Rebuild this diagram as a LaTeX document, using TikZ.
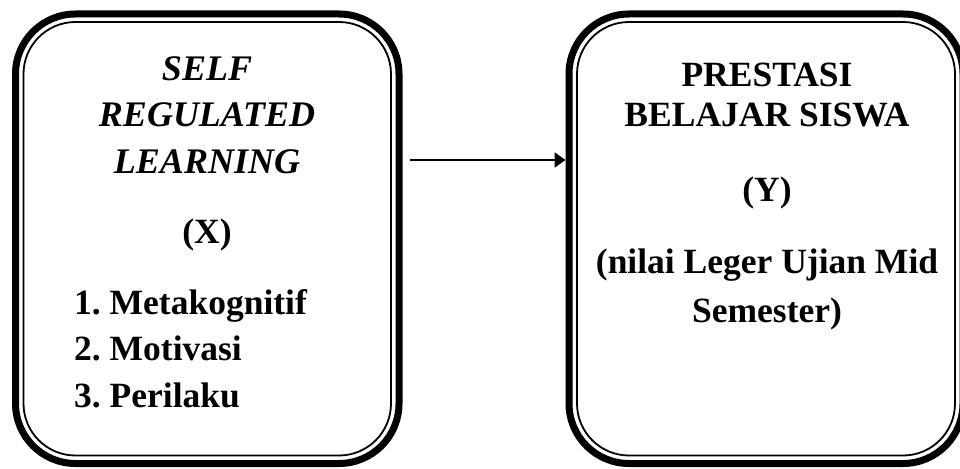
\documentclass[tikz,border=0pt]{standalone}
\usepackage{fontspec}
\setmainfont{Liberation Serif}
\usetikzlibrary{arrows.meta}
\frenchspacing
\tikzset{
  framebox/.style={draw, line width=7pt, rounded corners=60pt,
    minimum width=#1, minimum height=449.5pt, inner sep=0pt},
  innerframe/.style={draw, line width=1.8pt, rounded corners=52pt},
  boxtext/.style={inner sep=0pt, font=\bfseries\fontsize{35.5}{#1}\selectfont},
  boxtext/.default=46.5,
}
\begin{document}
\begin{tikzpicture}[x=1pt,y=-1pt]
    \useasboundingbox (0,0) rectangle (960,468);

    % Variable X
    \node[framebox=383.5pt] (xbox) at (207.25,238.75) {};
    \draw[innerframe] ([shift={(11.5,11.5)}]xbox.north west) rectangle ([shift={(-11.5,-11.5)}]xbox.south east);
    \node[boxtext, font=\bfseries\itshape\fontsize{36}{46.5}\selectfont, align=center, anchor=base] (xtitle) at (207,173) {SELF\\REGULATED\\LEARNING};
    \node[boxtext, anchor=base] (xsym) at (207,243) {(X)};
    \node[boxtext, align=left, anchor=base west] (xlist) at (74,407) {1. Metakognitif\\2. Motivasi\\3. Perilaku};

    % Variable Y
    \node[framebox=394pt] (ybox) at (766,238.75) {};
    \draw[innerframe] ([shift={(11.5,11.5)}]ybox.north west) rectangle ([shift={(-11.5,-11.5)}]ybox.south east);
    \node[boxtext=40, align=center, anchor=base] (ytitle) at (767,127) {PRESTASI\\BELAJAR SISWA};
    \node[boxtext, anchor=base] (ysym) at (767,201) {(Y)};
    \node[boxtext=48.5, align=center, anchor=base] (ynote) at (767,322) {(nilai Leger Ujian Mid\\Semester)};

    % Relation X -> Y
    \draw[-{Triangle[length=11pt,width=15pt]}, line width=2pt, shorten <=7.5pt]
        ([yshift=78.75pt]xbox.east) -- ([yshift=78.75pt]ybox.west);
\end{tikzpicture}
\end{document}
